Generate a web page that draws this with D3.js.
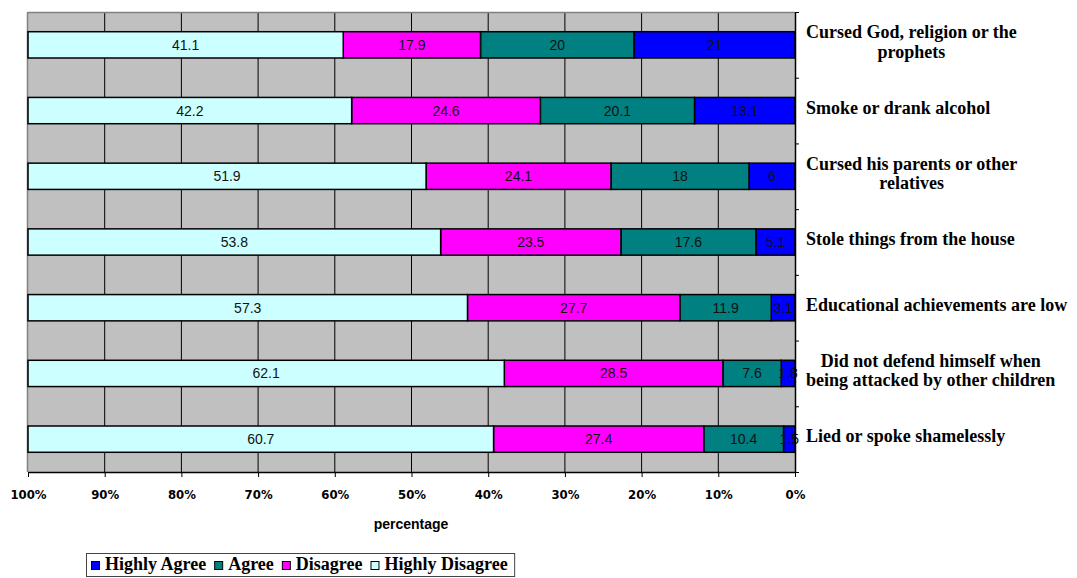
<!DOCTYPE html>
<html><head><meta charset="utf-8">
<script src="https://cdn.jsdelivr.net/npm/d3@7"></script>
<style>body{margin:0;background:#fff;} svg{display:block;}</style>
</head><body>
<svg id="chart" width="1077" height="578"></svg>
<script>
const categories = [
  "Cursed God, religion or the|prophets",
  "Smoke or drank alcohol",
  "Cursed his parents or other|relatives",
  "Stole things from the house",
  "Educational achievements are low",
  "Did not defend himself when|being attacked by other children",
  "Lied or spoke shamelessly"
];
const highlyAgree    = [21, 13.1, 6, 5.1, 3.1, 1.8, 1.5];
const agree          = [20, 20.1, 18, 17.6, 11.9, 7.6, 10.4];
const disagree       = [17.9, 24.6, 24.1, 23.5, 27.7, 28.5, 27.4];
const highlyDisagree = [41.1, 42.2, 51.9, 53.8, 57.3, 62.1, 60.7];
const seriesNames = ["Highly Agree", "Agree", "Disagree", "Highly Disagree"];
const xTicks = [100, 90, 80, 70, 60, 50, 40, 30, 20, 10, 0];
const axisTitle = "percentage";

const colors = ["#0000FF", "#008080", "#FF00FF", "#CCFFFF"];
const keys = ["ha", "a", "d", "hd"];
const rows = categories.map((c, i) => ({cat: c, ha: highlyAgree[i], a: agree[i], d: disagree[i], hd: highlyDisagree[i]}));

const svg = d3.select("#chart");
const L = 28, R = 795, T = 12, B = 472;

const x = d3.scaleLinear().domain([100, 0]).range([L, R]);
const y = d3.scaleBand().domain(categories).range([T, B]).paddingInner(0.6).paddingOuter(0.3);
const yIdx = d3.scaleLinear().domain([0, categories.length]).range([T, B]);

// background
svg.append("rect").attr("x", L).attr("y", T).attr("width", R - L).attr("height", B - T).attr("fill", "#C0C0C0");
// gridlines
svg.append("g").selectAll("line").data(xTicks.filter(t => t !== 0 && t !== 100)).join("line")
  .attr("x1", d => x(d)).attr("x2", d => x(d)).attr("y1", T).attr("y2", B)
  .attr("stroke", "#000").attr("stroke-width", 1);
// plot borders (top, left gray)
svg.append("line").attr("x1", L).attr("x2", R).attr("y1", T + 0.5).attr("y2", T + 0.5).attr("stroke", "#808080").attr("stroke-width", 1.5);
svg.append("line").attr("x1", L - 0.5).attr("x2", L - 0.5).attr("y1", T).attr("y2", B).attr("stroke", "#808080").attr("stroke-width", 1.5);

// bars
const stacked = d3.stack().keys(keys)(rows);
const gBars = svg.append("g");
stacked.forEach((s, si) => {
  gBars.selectAll(null).data(s).join("rect")
    .attr("x", d => x(d[1]))
    .attr("y", d => y(d.data.cat))
    .attr("width", d => x(d[0]) - x(d[1]))
    .attr("height", y.bandwidth())
    .attr("fill", colors[si])
    .attr("stroke", "#000").attr("stroke-width", 1.5);
});
// data labels
stacked.forEach((s, si) => {
  gBars.selectAll(null).data(s).join("text")
    .attr("x", d => (x(d[0]) + x(d[1])) / 2)
    .attr("y", d => y(d.data.cat) + y.bandwidth() / 2 + 5)
    .attr("text-anchor", "middle")
    .attr("font-family", "Liberation Sans, Arial, sans-serif")
    .attr("font-size", 14)
    .attr("fill", "#111")
    .text(d => d.data[keys[si]]);
});

// bottom axis
const xAxis = svg.append("g").attr("transform", `translate(0,${B})`)
  .call(d3.axisBottom(x).tickValues(xTicks).tickSize(5).tickSizeOuter(0).tickFormat(d => d + "%"));
xAxis.select(".domain").attr("stroke", "#000").attr("stroke-width", 1.5);
xAxis.selectAll(".tick line").attr("stroke", "#000");
xAxis.selectAll(".tick text").attr("y", 27).attr("dy", 0)
  .attr("font-family", "DejaVu Sans, Verdana, sans-serif").attr("font-weight", "bold")
  .attr("font-size", 11.7).attr("fill", "#000");

// right axis
const rAxis = svg.append("g").attr("transform", `translate(${R},0)`)
  .call(d3.axisRight(yIdx).tickValues(d3.range(categories.length + 1)).tickSize(4).tickSizeOuter(0).tickFormat(""));
rAxis.select(".domain").attr("stroke", "#000").attr("stroke-width", 1.5);
rAxis.selectAll(".tick line").attr("stroke", "#000");

// category labels
const gLab = svg.append("g");
categories.forEach((c, i) => {
  const lines = c.split("|");
  const cy = y(c) + y.bandwidth() / 2 + 3;
  const t = gLab.append("text")
    .attr("font-family", "Liberation Serif, Times New Roman, serif")
    .attr("font-weight", "bold").attr("font-size", 18).attr("fill", "#000")
    .attr("text-anchor", "middle");
  const spans = lines.map((ln, li) => t.append("tspan").text(ln)
    .attr("y", cy + (li - (lines.length - 1) / 2) * 19.5));
  let maxW = 0;
  spans.forEach(sp => { maxW = Math.max(maxW, sp.node().getComputedTextLength()); });
  spans.forEach(sp => sp.attr("x", 806 + maxW / 2));
});

// axis title
svg.append("text").attr("x", 411).attr("y", 529).attr("text-anchor", "middle")
  .attr("font-family", "Liberation Sans, Arial, sans-serif").attr("font-weight", "bold")
  .attr("font-size", 14).attr("fill", "#000").text(axisTitle);

// legend
const lg = svg.append("g");
const box = lg.append("rect").attr("x", 86.5).attr("y", 553.5).attr("height", 23).attr("fill", "#fff")
  .attr("stroke", "#444").attr("stroke-width", 1);
let cx = 91;
seriesNames.forEach((n, i) => {
  lg.append("rect").attr("x", cx + 0.5).attr("y", 561.5).attr("width", 8).attr("height", 8)
    .attr("fill", colors[i]).attr("stroke", "#000").attr("stroke-width", 1);
  const tx = lg.append("text").attr("x", cx + 14).attr("y", 570)
    .attr("font-family", "Liberation Serif, Times New Roman, serif").attr("font-weight", "bold")
    .attr("font-size", 18).attr("fill", "#000").text(n);
  cx = cx + 14 + tx.node().getComputedTextLength() + 8;
});
box.attr("width", cx - 86.5 - 1);
</script>
</body></html>
